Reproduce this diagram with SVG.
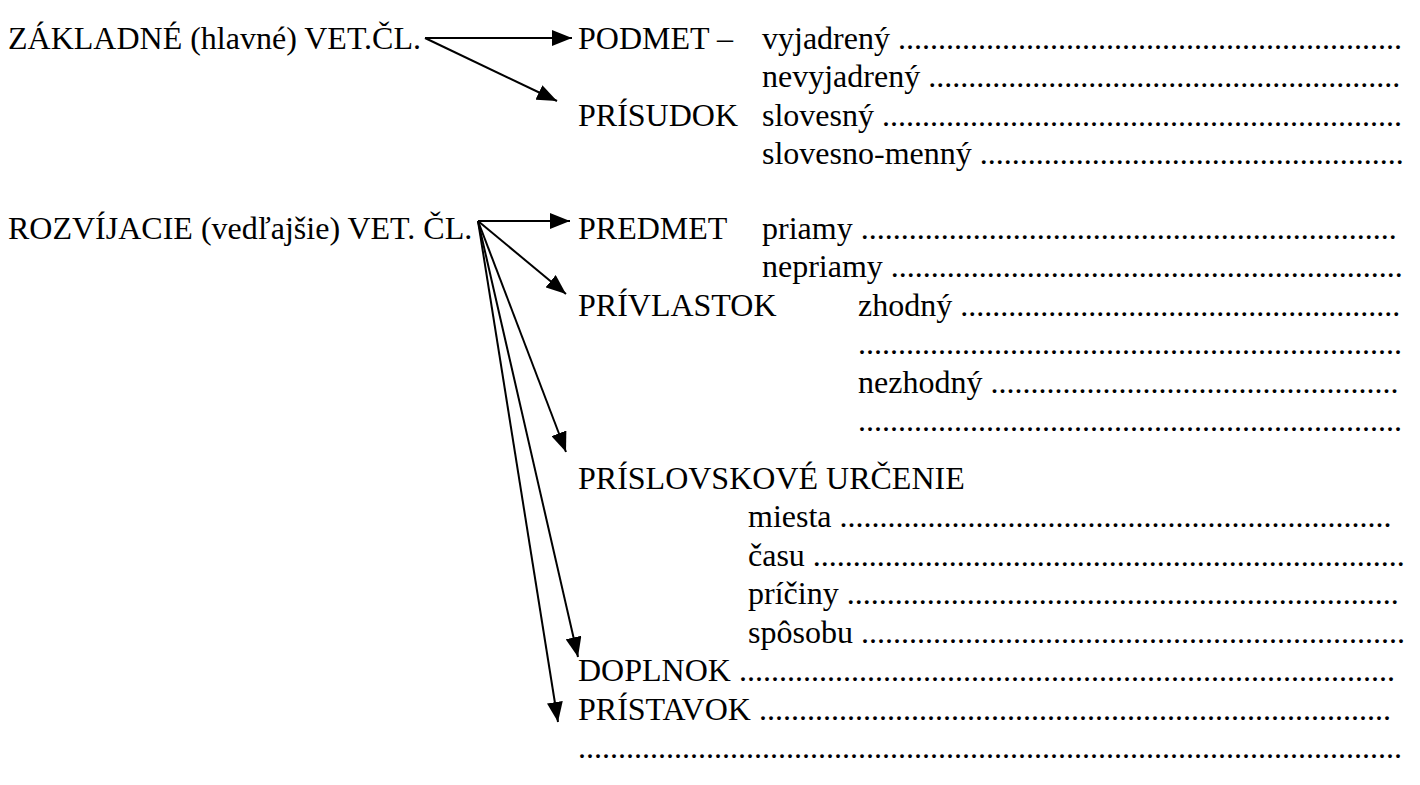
<svg xmlns="http://www.w3.org/2000/svg" width="1420" height="785" viewBox="0 0 1420 785">
<defs>
<marker id="ah" markerUnits="userSpaceOnUse" markerWidth="22" markerHeight="16" refX="20" refY="8" orient="auto">
<path d="M0,0 L20,8 L0,16 Z" fill="#000"/>
</marker>
<style>
.c line{stroke:#000;stroke-width:2;fill:none}
</style>
</defs>
<rect width="1420" height="785" fill="#fff"/>
<g id="connectors" class="c">
<line x1="425" y1="38" x2="572" y2="38" marker-end="url(#ah)"/>
<line x1="425" y1="38" x2="557" y2="101" marker-end="url(#ah)"/>
<line x1="478" y1="221" x2="570" y2="221" marker-end="url(#ah)"/>
<line x1="478" y1="221" x2="566" y2="294" marker-end="url(#ah)"/>
<line x1="478" y1="221" x2="566" y2="452" marker-end="url(#ah)"/>
<line x1="478" y1="221" x2="578" y2="657" marker-end="url(#ah)"/>
<line x1="478" y1="221" x2="558" y2="722" marker-end="url(#ah)"/>
</g>
<g font-family="Liberation Serif, serif" font-size="32" fill="#000">
<g id="zakladne"><text x="8" y="48.5">ZÁKLADNÉ (hlavné) VET.ČL.</text></g>
<g id="podmet"><text x="578" y="48.5">PODMET –</text>
<text x="762" y="48.5">vyjadrený ...............................................................</text>
<text x="762" y="87">nevyjadrený ...........................................................</text></g>
<g id="prisudok"><text x="578" y="125.5">PRÍSUDOK</text>
<text x="762" y="125.5">slovesný .................................................................</text>
<text x="762" y="164">slovesno-menný .....................................................</text></g>
<g id="rozvijacie"><text x="8" y="238.5">ROZVÍJACIE (vedľajšie) VET. ČL.</text></g>
<g id="predmet"><text x="578" y="238.5">PREDMET</text>
<text x="762" y="238.5">priamy ...................................................................</text>
<text x="762" y="277">nepriamy ................................................................</text></g>
<g id="privlastok"><text x="578" y="315.5">PRÍVLASTOK</text>
<text x="858" y="315.5">zhodný .......................................................</text>
<text x="858" y="354">....................................................................</text>
<text x="858" y="392.5">nezhodný ...................................................</text>
<text x="858" y="431">....................................................................</text></g>
<g id="prislovkove"><text x="578" y="488.5">PRÍSLOVSKOVÉ URČENIE</text>
<text x="748" y="527">miesta .....................................................................</text>
<text x="748" y="565.5">času ..........................................................................</text>
<text x="748" y="604">príčiny .....................................................................</text>
<text x="748" y="642.5">spôsobu ....................................................................</text></g>
<g id="doplnok"><text x="578" y="681">DOPLNOK ..................................................................................</text></g>
<g id="pristavok"><text x="578" y="719.5">PRÍSTAVOK ...............................................................................</text>
<text x="578" y="758">.......................................................................................................</text></g>
</g>
</svg>
